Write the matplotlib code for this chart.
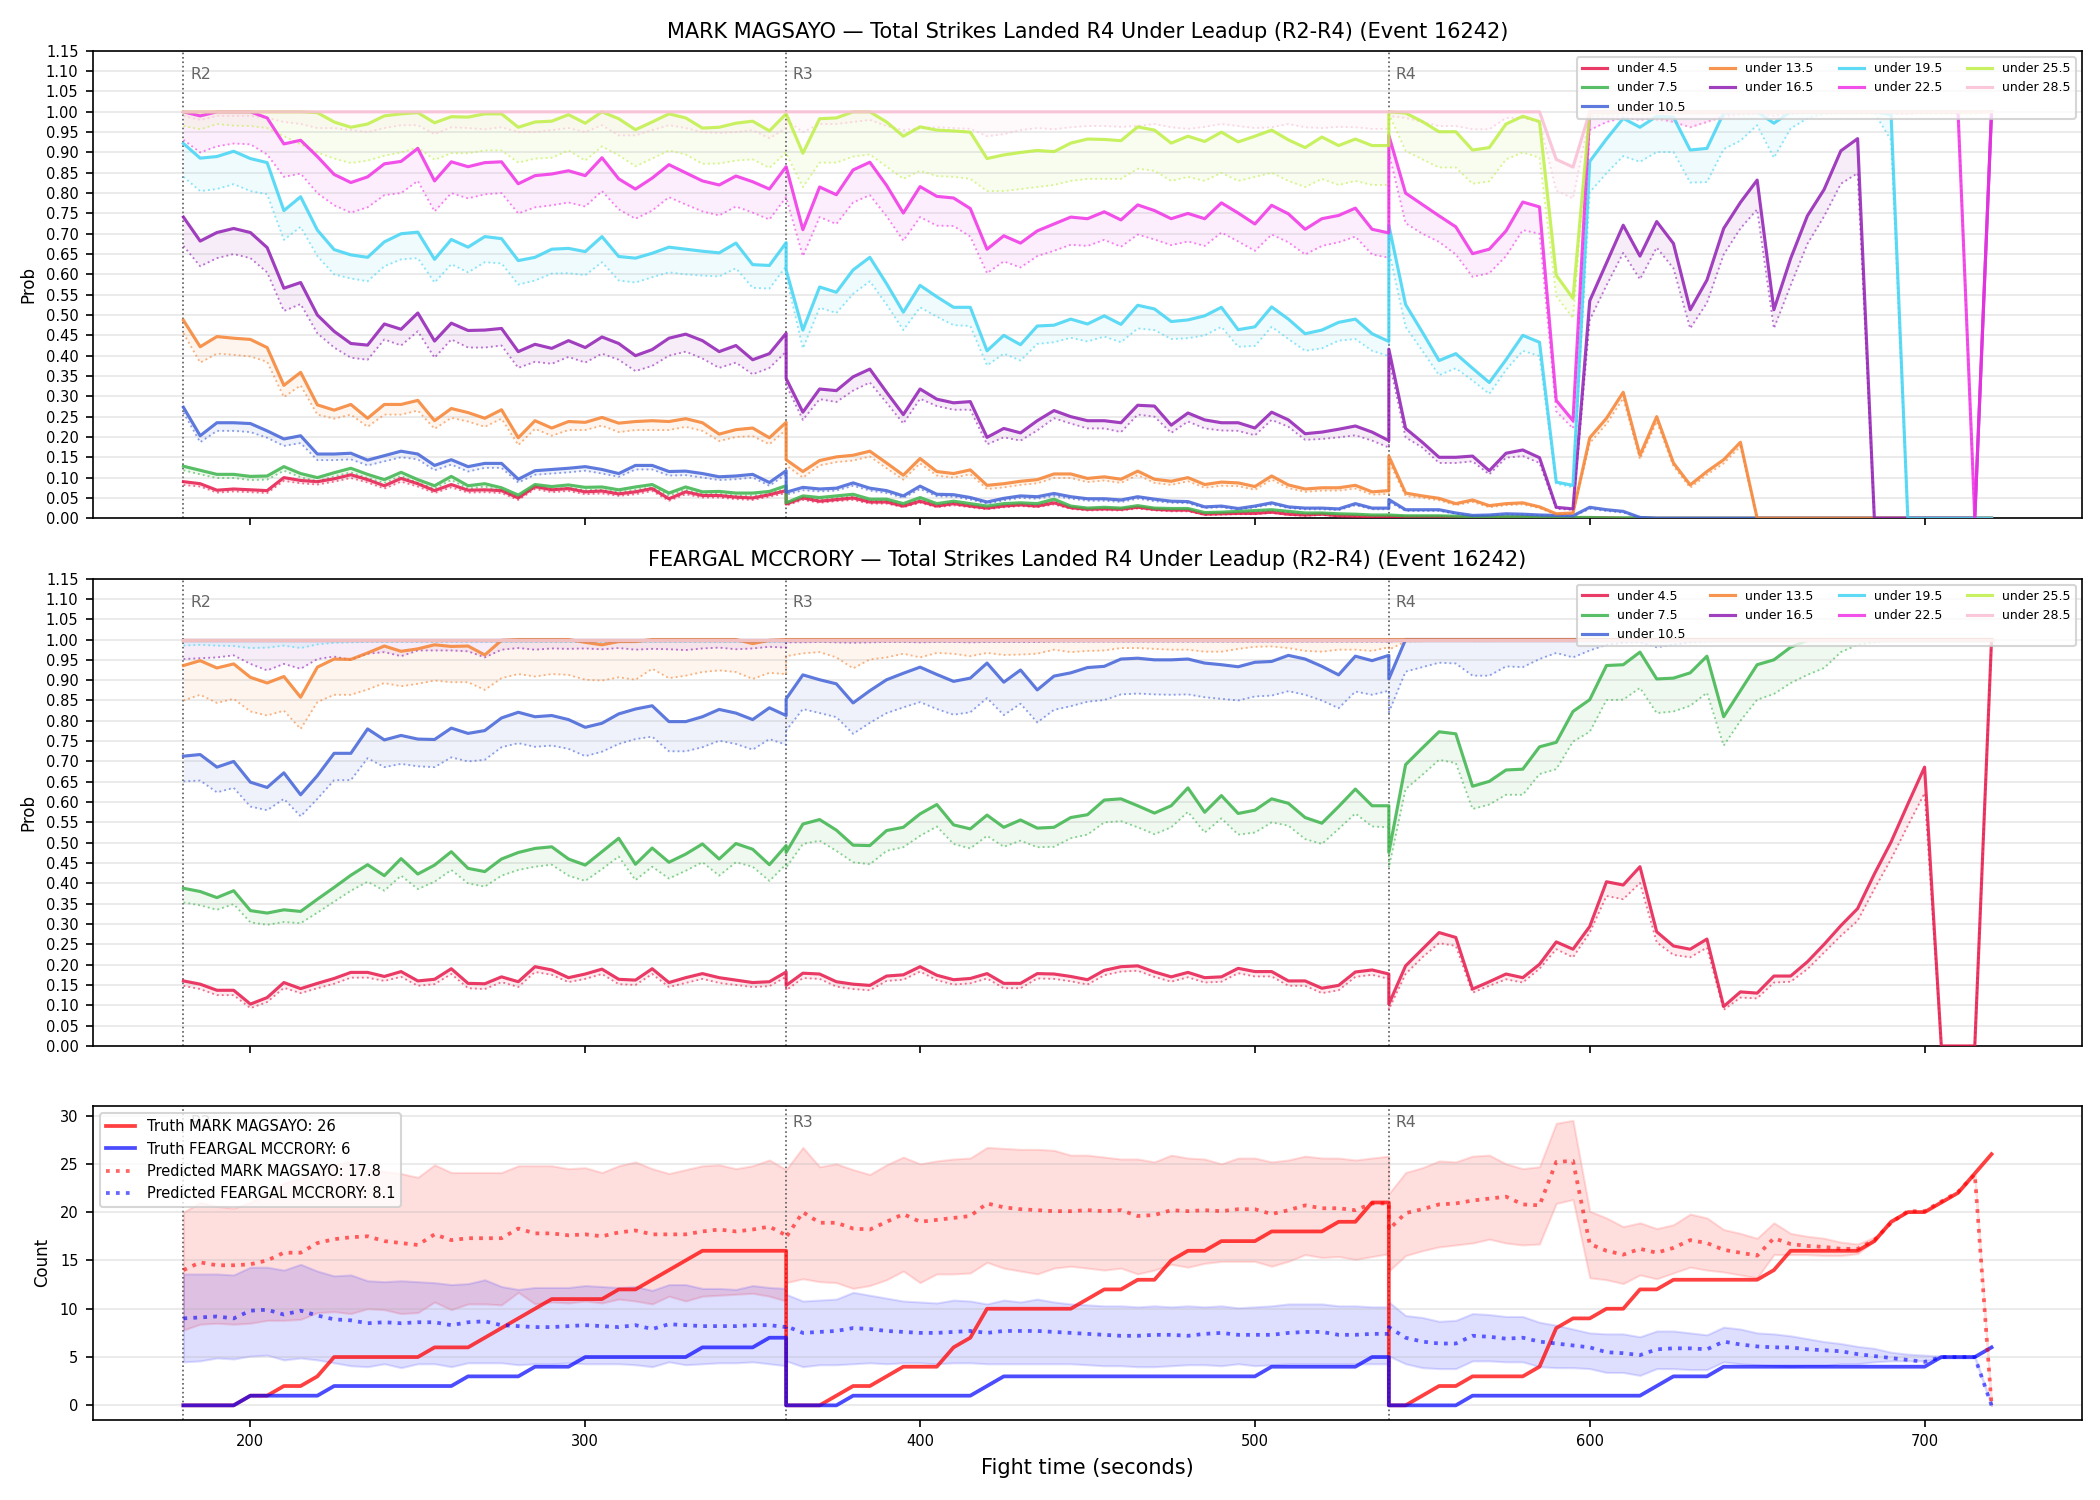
import numpy as np
import matplotlib
matplotlib.use("Agg")
import matplotlib.pyplot as plt
from matplotlib import transforms

# ---------------- time grid (5 s steps, each round 37 samples) ----------------
R2_T = list(range(180, 361, 5))
R3_T = list(range(360, 541, 5))
R4_T = list(range(540, 721, 5))
TIMES = R2_T + R3_T + R4_T
ROUND_STARTS = [180, 360, 540]
ROUND_NAMES = ["R2", "R3", "R4"]

LINE_LABELS = ["under 4.5", "under 7.5", "under 10.5", "under 13.5", "under 16.5",
               "under 19.5", "under 22.5", "under 25.5", "under 28.5"]
LINE_COLORS = ["#e6194B", "#3cb44b", "#4363d8", "#f58231", "#911eb4",
               "#42d4f4", "#f032e6", "#bfef45", "#fabed4"]

# ---------------- MARK MAGSAYO probabilities (solid) and dotted companions ----------------
MM_U45 = [0.090, 0.085, 0.069, 0.072, 0.070, 0.068, 0.100, 0.093, 0.090, 0.097, 0.107, 0.095, 0.080, 0.098, 0.085, 0.068, 0.083, 0.069, 0.070, 0.068, 0.050, 0.078, 0.070, 0.073, 0.065, 0.067, 0.060, 0.065, 0.073, 0.048, 0.065, 0.056, 0.056, 0.052, 0.050, 0.058, 0.068,
          0.035, 0.050, 0.042, 0.046, 0.050, 0.040, 0.040, 0.030, 0.042, 0.030, 0.036, 0.030, 0.025, 0.030, 0.033, 0.030, 0.038, 0.026, 0.022, 0.023, 0.022, 0.027, 0.022, 0.020, 0.020, 0.010, 0.011, 0.012, 0.012, 0.015, 0.010, 0.008, 0.010, 0.006, 0.005, 0.004, 0.004,
          0.004, 0.003, 0.003, 0.003, 0.002, 0.002, 0.002, 0.002, 0.002, 0.001, 0.001, 0.001, 0.001, 0.001, 0, 0, 0, 0, 0, 0, 0, 0, 0, 0, 0, 0, 0, 0, 0, 0, 0, 0, 0, 0, 0, 0, 0]
MM_U45_D = [0.082, 0.078, 0.063, 0.066, 0.064, 0.062, 0.092, 0.086, 0.083, 0.090, 0.099, 0.088, 0.073, 0.090, 0.078, 0.062, 0.076, 0.063, 0.064, 0.062, 0.045, 0.072, 0.064, 0.067, 0.059, 0.061, 0.055, 0.059, 0.067, 0.043, 0.059, 0.051, 0.051, 0.047, 0.045, 0.053, 0.062,
            0.031, 0.045, 0.038, 0.042, 0.045, 0.036, 0.036, 0.027, 0.038, 0.027, 0.032, 0.027, 0.022, 0.027, 0.030, 0.027, 0.034, 0.023, 0.019, 0.020, 0.019, 0.024, 0.019, 0.017, 0.017, 0.008, 0.009, 0.010, 0.010, 0.013, 0.008, 0.006, 0.008, 0.005, 0.004, 0.003, 0.003,
            0.003, 0.002, 0.002, 0.002, 0.001, 0.001, 0.001, 0.001, 0.001, 0.001, 0, 0, 0, 0, 0, 0, 0, 0, 0, 0, 0, 0, 0, 0, 0, 0, 0, 0, 0, 0, 0, 0, 0, 0, 0, 0, 0]
MM_U75 = [0.128, 0.118, 0.108, 0.108, 0.103, 0.104, 0.127, 0.110, 0.100, 0.112, 0.123, 0.108, 0.095, 0.113, 0.095, 0.080, 0.103, 0.080, 0.085, 0.075, 0.057, 0.083, 0.078, 0.082, 0.076, 0.077, 0.070, 0.077, 0.083, 0.062, 0.077, 0.065, 0.066, 0.062, 0.062, 0.066, 0.080,
          0.038, 0.055, 0.051, 0.055, 0.059, 0.047, 0.047, 0.036, 0.051, 0.036, 0.042, 0.036, 0.030, 0.036, 0.038, 0.036, 0.047, 0.030, 0.025, 0.027, 0.025, 0.031, 0.025, 0.024, 0.024, 0.014, 0.015, 0.017, 0.019, 0.021, 0.017, 0.013, 0.013, 0.011, 0.010, 0.008, 0.008,
          0.008, 0.006, 0.006, 0.006, 0.005, 0.004, 0.004, 0.004, 0.004, 0.003, 0.002, 0.002, 0.002, 0.001, 0.001, 0.001, 0, 0, 0, 0, 0, 0, 0, 0, 0, 0, 0, 0, 0, 0, 0, 0, 0, 0, 0, 0, 0]
MM_U75_D = [0.118, 0.108, 0.099, 0.099, 0.094, 0.095, 0.117, 0.101, 0.091, 0.103, 0.113, 0.099, 0.087, 0.104, 0.087, 0.073, 0.094, 0.073, 0.078, 0.068, 0.051, 0.076, 0.071, 0.075, 0.069, 0.070, 0.064, 0.070, 0.076, 0.056, 0.070, 0.059, 0.060, 0.056, 0.056, 0.060, 0.073,
            0.034, 0.050, 0.046, 0.050, 0.053, 0.042, 0.042, 0.032, 0.046, 0.032, 0.038, 0.032, 0.027, 0.032, 0.034, 0.032, 0.042, 0.027, 0.022, 0.024, 0.022, 0.028, 0.022, 0.021, 0.021, 0.012, 0.013, 0.015, 0.017, 0.019, 0.015, 0.011, 0.011, 0.009, 0.008, 0.007, 0.007,
            0.007, 0.005, 0.005, 0.005, 0.004, 0.003, 0.003, 0.003, 0.003, 0.002, 0.002, 0.001, 0.001, 0.001, 0, 0, 0, 0, 0, 0, 0, 0, 0, 0, 0, 0, 0, 0, 0, 0, 0, 0, 0, 0, 0, 0, 0]
MM_U105 = [0.273, 0.203, 0.235, 0.235, 0.233, 0.215, 0.195, 0.203, 0.158, 0.158, 0.160, 0.143, 0.154, 0.165, 0.158, 0.130, 0.144, 0.127, 0.135, 0.135, 0.096, 0.117, 0.120, 0.123, 0.127, 0.120, 0.110, 0.130, 0.130, 0.115, 0.116, 0.110, 0.102, 0.104, 0.108, 0.088, 0.117,
           0.064, 0.076, 0.072, 0.074, 0.087, 0.074, 0.068, 0.055, 0.079, 0.059, 0.058, 0.051, 0.040, 0.049, 0.055, 0.053, 0.061, 0.053, 0.048, 0.048, 0.045, 0.053, 0.047, 0.042, 0.041, 0.028, 0.030, 0.024, 0.030, 0.038, 0.028, 0.025, 0.025, 0.023, 0.036, 0.025, 0.025,
           0.046, 0.021, 0.021, 0.021, 0.013, 0.007, 0.008, 0.011, 0.010, 0.008, 0.007, 0.006, 0.027, 0.021, 0.017, 0.002, 0, 0, 0, 0, 0, 0, 0, 0, 0, 0, 0, 0, 0, 0, 0, 0, 0, 0, 0, 0, 0]
MM_U105_D = [0.260, 0.187, 0.215, 0.215, 0.212, 0.198, 0.178, 0.185, 0.143, 0.143, 0.145, 0.130, 0.140, 0.150, 0.145, 0.118, 0.132, 0.115, 0.124, 0.124, 0.088, 0.107, 0.110, 0.113, 0.117, 0.110, 0.102, 0.120, 0.120, 0.105, 0.106, 0.100, 0.094, 0.096, 0.100, 0.080, 0.108,
             0.058, 0.069, 0.066, 0.068, 0.080, 0.068, 0.062, 0.050, 0.072, 0.054, 0.053, 0.046, 0.036, 0.044, 0.050, 0.048, 0.055, 0.048, 0.043, 0.043, 0.040, 0.048, 0.042, 0.038, 0.037, 0.025, 0.027, 0.021, 0.027, 0.034, 0.025, 0.022, 0.022, 0.020, 0.032, 0.022, 0.022,
             0.040, 0.018, 0.018, 0.018, 0.011, 0.006, 0.007, 0.009, 0.008, 0.007, 0.006, 0.005, 0.023, 0.018, 0.014, 0.001, 0, 0, 0, 0, 0, 0, 0, 0, 0, 0, 0, 0, 0, 0, 0, 0, 0, 0, 0, 0, 0]
MM_U135 = [0.487, 0.422, 0.447, 0.443, 0.440, 0.420, 0.327, 0.359, 0.279, 0.266, 0.280, 0.246, 0.280, 0.280, 0.290, 0.240, 0.270, 0.260, 0.246, 0.267, 0.198, 0.240, 0.222, 0.238, 0.236, 0.248, 0.234, 0.238, 0.240, 0.238, 0.245, 0.235, 0.207, 0.218, 0.222, 0.198, 0.236,
           0.144, 0.115, 0.142, 0.151, 0.155, 0.165, 0.136, 0.106, 0.147, 0.115, 0.110, 0.119, 0.081, 0.085, 0.091, 0.095, 0.109, 0.109, 0.098, 0.102, 0.096, 0.116, 0.096, 0.091, 0.100, 0.083, 0.089, 0.087, 0.078, 0.104, 0.082, 0.072, 0.075, 0.075, 0.081, 0.065, 0.068,
           0.153, 0.062, 0.055, 0.049, 0.036, 0.045, 0.031, 0.036, 0.038, 0.028, 0.011, 0.013, 0.198, 0.246, 0.310, 0.155, 0.250, 0.136, 0.082, 0.115, 0.144, 0.187, 0, 0, 0, 0, 0, 0, 0, 0, 0, 0, 0, 0, 0, 0, 0]
MM_U135_D = [0.455, 0.383, 0.405, 0.402, 0.398, 0.385, 0.298, 0.327, 0.255, 0.245, 0.255, 0.225, 0.255, 0.255, 0.265, 0.220, 0.247, 0.238, 0.225, 0.245, 0.180, 0.220, 0.203, 0.217, 0.217, 0.228, 0.212, 0.217, 0.217, 0.217, 0.225, 0.215, 0.190, 0.200, 0.202, 0.182, 0.218,
             0.130, 0.100, 0.130, 0.138, 0.142, 0.152, 0.123, 0.095, 0.135, 0.105, 0.100, 0.108, 0.072, 0.076, 0.082, 0.086, 0.099, 0.099, 0.089, 0.093, 0.087, 0.106, 0.087, 0.082, 0.091, 0.075, 0.080, 0.079, 0.070, 0.095, 0.074, 0.065, 0.068, 0.068, 0.073, 0.058, 0.060,
             0.140, 0.055, 0.050, 0.044, 0.032, 0.040, 0.027, 0.032, 0.034, 0.025, 0.009, 0.011, 0.185, 0.232, 0.295, 0.145, 0.238, 0.128, 0.075, 0.107, 0.135, 0.177, 0, 0, 0, 0, 0, 0, 0, 0, 0, 0, 0, 0, 0, 0, 0]
MM_U165 = [0.741, 0.682, 0.703, 0.713, 0.703, 0.666, 0.566, 0.580, 0.500, 0.460, 0.430, 0.426, 0.478, 0.465, 0.505, 0.436, 0.480, 0.462, 0.463, 0.467, 0.410, 0.428, 0.418, 0.437, 0.420, 0.446, 0.430, 0.400, 0.415, 0.443, 0.453, 0.437, 0.410, 0.425, 0.390, 0.405, 0.455,
           0.344, 0.261, 0.318, 0.314, 0.348, 0.367, 0.310, 0.255, 0.318, 0.293, 0.284, 0.287, 0.199, 0.221, 0.210, 0.240, 0.265, 0.250, 0.240, 0.240, 0.235, 0.278, 0.276, 0.229, 0.259, 0.242, 0.235, 0.235, 0.222, 0.261, 0.242, 0.208, 0.212, 0.219, 0.227, 0.212, 0.191,
           0.416, 0.221, 0.187, 0.150, 0.150, 0.153, 0.117, 0.160, 0.168, 0.149, 0.027, 0.023, 0.535, 0.628, 0.721, 0.645, 0.730, 0.676, 0.513, 0.586, 0.713, 0.777, 0.832, 0.513, 0.639, 0.744, 0.809, 0.904, 0.934, 0, 0, 0, 0, 0, 0, 0, 1.0]
MM_U165_D = [0.670, 0.620, 0.640, 0.650, 0.640, 0.605, 0.510, 0.527, 0.455, 0.420, 0.395, 0.390, 0.440, 0.425, 0.460, 0.395, 0.440, 0.420, 0.420, 0.425, 0.370, 0.385, 0.380, 0.397, 0.383, 0.405, 0.390, 0.362, 0.375, 0.400, 0.410, 0.393, 0.370, 0.383, 0.354, 0.370, 0.410,
             0.328, 0.242, 0.293, 0.286, 0.314, 0.334, 0.284, 0.233, 0.294, 0.276, 0.267, 0.267, 0.182, 0.199, 0.191, 0.216, 0.246, 0.233, 0.221, 0.221, 0.212, 0.255, 0.250, 0.210, 0.238, 0.221, 0.216, 0.215, 0.204, 0.242, 0.225, 0.193, 0.195, 0.199, 0.204, 0.191, 0.174,
             0.390, 0.199, 0.174, 0.136, 0.136, 0.140, 0.108, 0.149, 0.153, 0.136, 0.023, 0.021, 0.488, 0.573, 0.653, 0.588, 0.666, 0.615, 0.467, 0.530, 0.649, 0.713, 0.760, 0.467, 0.573, 0.675, 0.743, 0.823, 0.849, 0, 0, 0, 0, 0, 0, 0, 1.0]
MM_U195 = [0.922, 0.886, 0.890, 0.903, 0.885, 0.875, 0.757, 0.791, 0.709, 0.661, 0.648, 0.642, 0.680, 0.700, 0.704, 0.637, 0.686, 0.667, 0.693, 0.688, 0.634, 0.642, 0.662, 0.664, 0.656, 0.693, 0.644, 0.640, 0.652, 0.667, 0.662, 0.657, 0.653, 0.677, 0.624, 0.622, 0.678,
           0.611, 0.463, 0.569, 0.556, 0.611, 0.642, 0.577, 0.507, 0.573, 0.545, 0.519, 0.519, 0.412, 0.450, 0.427, 0.473, 0.475, 0.490, 0.478, 0.498, 0.477, 0.524, 0.515, 0.484, 0.488, 0.498, 0.519, 0.464, 0.471, 0.520, 0.490, 0.454, 0.463, 0.482, 0.490, 0.454, 0.435,
           0.721, 0.526, 0.458, 0.388, 0.405, 0.369, 0.334, 0.390, 0.450, 0.433, 0.089, 0.081, 0.878, 0.933, 0.984, 0.962, 0.989, 0.987, 0.906, 0.910, 0.997, 1.0, 1.0, 0.972, 1.0, 1.0, 1.0, 1.0, 1.0, 1.0, 0.993, 0, 0, 0, 0, 0, 0]
MM_U195_D = [0.840, 0.805, 0.810, 0.822, 0.805, 0.797, 0.685, 0.717, 0.645, 0.600, 0.590, 0.583, 0.620, 0.637, 0.640, 0.580, 0.625, 0.605, 0.630, 0.627, 0.575, 0.585, 0.602, 0.603, 0.598, 0.630, 0.585, 0.580, 0.593, 0.605, 0.600, 0.597, 0.595, 0.615, 0.567, 0.565, 0.620,
             0.595, 0.418, 0.518, 0.505, 0.552, 0.583, 0.526, 0.463, 0.519, 0.496, 0.475, 0.473, 0.376, 0.405, 0.388, 0.429, 0.433, 0.444, 0.435, 0.447, 0.433, 0.467, 0.463, 0.441, 0.443, 0.450, 0.471, 0.422, 0.424, 0.471, 0.441, 0.412, 0.418, 0.437, 0.441, 0.412, 0.399,
             0.660, 0.471, 0.412, 0.352, 0.369, 0.339, 0.306, 0.365, 0.412, 0.399, 0.085, 0.076, 0.802, 0.849, 0.891, 0.877, 0.901, 0.901, 0.826, 0.827, 0.908, 0.929, 0.967, 0.887, 0.959, 0.984, 0.995, 0.998, 0.998, 0.998, 0.930, 0, 0, 0, 0, 0, 0]
MM_U225 = [1.000, 0.990, 1.000, 1.000, 1.000, 0.985, 0.921, 0.930, 0.890, 0.846, 0.826, 0.840, 0.872, 0.878, 0.910, 0.830, 0.877, 0.865, 0.875, 0.877, 0.823, 0.843, 0.847, 0.855, 0.843, 0.887, 0.835, 0.810, 0.837, 0.870, 0.850, 0.830, 0.820, 0.842, 0.828, 0.810, 0.865,
           0.865, 0.710, 0.815, 0.796, 0.857, 0.876, 0.819, 0.751, 0.816, 0.792, 0.788, 0.762, 0.662, 0.695, 0.677, 0.707, 0.724, 0.741, 0.737, 0.754, 0.734, 0.771, 0.757, 0.737, 0.750, 0.737, 0.776, 0.751, 0.724, 0.770, 0.749, 0.711, 0.737, 0.745, 0.763, 0.711, 0.702,
           0.942, 0.800, 0.772, 0.744, 0.717, 0.651, 0.662, 0.707, 0.778, 0.766, 0.290, 0.240, 1.0, 1.0, 1.0, 1.0, 1.0, 1.0, 1.0, 1.0, 1.0, 1.0, 1.0, 1.0, 1.0, 1.0, 1.0, 1.0, 1.0, 1.0, 1.0, 1.0, 1.0, 1.0, 1.0, 0, 1.0]
MM_U225_D = [0.931, 0.900, 0.915, 0.922, 0.920, 0.895, 0.840, 0.848, 0.800, 0.770, 0.752, 0.765, 0.795, 0.800, 0.830, 0.755, 0.800, 0.787, 0.797, 0.800, 0.750, 0.765, 0.770, 0.777, 0.767, 0.805, 0.760, 0.737, 0.757, 0.790, 0.772, 0.755, 0.745, 0.767, 0.752, 0.735, 0.790,
             0.789, 0.645, 0.741, 0.724, 0.777, 0.795, 0.743, 0.683, 0.741, 0.720, 0.719, 0.693, 0.603, 0.632, 0.617, 0.645, 0.658, 0.673, 0.670, 0.685, 0.668, 0.698, 0.686, 0.672, 0.681, 0.670, 0.703, 0.681, 0.658, 0.698, 0.679, 0.649, 0.670, 0.679, 0.693, 0.649, 0.641,
             0.900, 0.726, 0.700, 0.680, 0.649, 0.594, 0.603, 0.645, 0.709, 0.700, 0.263, 0.221, 0.955, 0.975, 0.985, 0.980, 0.985, 0.975, 0.962, 0.975, 0.990, 0.995, 0.995, 0.990, 0.995, 0.998, 0.998, 0.998, 0.998, 0.998, 0.995, 0.995, 0.998, 0.998, 0.998, 0, 1.0]
MM_U255 = [1.0, 1.0, 1.0, 1.0, 1.0, 1.0, 1.0, 1.0, 0.998, 0.975, 0.962, 0.970, 0.990, 0.995, 0.998, 0.973, 0.988, 0.987, 0.995, 0.995, 0.962, 0.975, 0.977, 0.993, 0.972, 1.000, 0.983, 0.956, 0.975, 0.995, 0.985, 0.960, 0.962, 0.972, 0.977, 0.953, 0.995,
           0.995, 0.898, 0.983, 0.985, 1.0, 1.0, 0.975, 0.940, 0.963, 0.955, 0.953, 0.950, 0.885, 0.894, 0.900, 0.905, 0.902, 0.923, 0.933, 0.932, 0.929, 0.963, 0.955, 0.923, 0.940, 0.927, 0.950, 0.926, 0.940, 0.955, 0.931, 0.912, 0.938, 0.917, 0.933, 0.917, 0.917,
           1.0, 0.997, 0.976, 0.951, 0.951, 0.906, 0.912, 0.970, 0.989, 0.976, 0.598, 0.541, 1.0, 1.0, 1.0, 1.0, 1.0, 1.0, 1.0, 1.0, 1.0, 1.0, 1.0, 1.0, 1.0, 1.0, 1.0, 1.0, 1.0, 1.0, 1.0, 1.0, 1.0, 1.0, 1.0, 1.0, 1.0]
MM_U255_D = [0.965, 0.957, 0.970, 0.966, 0.965, 0.960, 0.940, 0.920, 0.900, 0.885, 0.874, 0.880, 0.892, 0.900, 0.912, 0.882, 0.898, 0.898, 0.905, 0.905, 0.875, 0.885, 0.887, 0.905, 0.880, 0.915, 0.893, 0.866, 0.885, 0.905, 0.895, 0.872, 0.873, 0.880, 0.883, 0.862, 0.900,
             0.898, 0.815, 0.875, 0.875, 0.890, 0.895, 0.865, 0.835, 0.855, 0.842, 0.840, 0.835, 0.805, 0.805, 0.810, 0.815, 0.820, 0.830, 0.835, 0.835, 0.835, 0.860, 0.855, 0.830, 0.840, 0.830, 0.850, 0.830, 0.840, 0.850, 0.830, 0.815, 0.835, 0.820, 0.830, 0.820, 0.820,
             0.995, 0.904, 0.883, 0.863, 0.863, 0.823, 0.829, 0.883, 0.900, 0.887, 0.547, 0.492, 0.990, 0.992, 0.995, 0.995, 0.995, 0.995, 0.995, 0.995, 0.995, 0.995, 0.995, 0.995, 0.995, 0.995, 0.995, 0.995, 0.995, 0.995, 0.995, 0.995, 0.995, 0.995, 0.995, 0.995, 1.0]
MM_U285 = [1.0, 1.0, 1.0, 1.0, 1.0, 1.0, 1.0, 1.0, 1.0, 1.0, 1.0, 1.0, 1.0, 1.0, 1.0, 1.0, 1.0, 1.0, 1.0, 1.0, 1.0, 1.0, 1.0, 1.0, 1.0, 1.0, 1.0, 1.0, 1.0, 1.0, 1.0, 1.0, 1.0, 1.0, 1.0, 1.0, 1.0,
           1.0, 1.0, 1.0, 1.0, 1.0, 1.0, 1.0, 1.0, 1.0, 1.0, 1.0, 1.0, 1.0, 1.0, 1.0, 1.0, 1.0, 1.0, 1.0, 1.0, 1.0, 1.0, 1.0, 1.0, 1.0, 1.0, 1.0, 1.0, 1.0, 1.0, 1.0, 1.0, 1.0, 1.0, 1.0, 1.0, 1.0,
           1.0, 1.0, 1.0, 1.0, 1.0, 1.0, 1.0, 1.0, 1.0, 1.0, 0.883, 0.864, 1.0, 1.0, 1.0, 1.0, 1.0, 1.0, 1.0, 1.0, 1.0, 1.0, 1.0, 1.0, 1.0, 1.0, 1.0, 1.0, 1.0, 1.0, 1.0, 1.0, 1.0, 1.0, 1.0, 1.0, 1.0]
MM_U285_D = [0.990, 0.980, 0.990, 0.990, 0.990, 0.985, 0.975, 0.970, 0.960, 0.960, 0.955, 0.950, 0.960, 0.967, 0.967, 0.945, 0.962, 0.960, 0.957, 0.962, 0.950, 0.950, 0.955, 0.960, 0.950, 0.967, 0.942, 0.942, 0.955, 0.967, 0.960, 0.950, 0.948, 0.950, 0.955, 0.935, 0.960,
             0.980, 0.950, 0.970, 0.970, 0.975, 0.980, 0.965, 0.955, 0.960, 0.962, 0.960, 0.958, 0.940, 0.945, 0.955, 0.960, 0.957, 0.962, 0.965, 0.965, 0.963, 0.965, 0.970, 0.962, 0.958, 0.963, 0.970, 0.965, 0.960, 0.962, 0.970, 0.962, 0.960, 0.963, 0.962, 0.958, 0.958,
             0.990, 0.985, 0.975, 0.965, 0.965, 0.957, 0.957, 0.985, 0.985, 0.975, 0.806, 0.787, 0.990, 0.985, 0.990, 0.985, 0.980, 0.975, 0.962, 0.975, 0.985, 0.990, 0.995, 0.990, 0.995, 0.998, 0.998, 0.998, 0.998, 0.998, 0.998, 0.998, 0.998, 0.998, 0.998, 0.998, 0.998]

# ---------------- FEARGAL MCCRORY probabilities ----------------
FM_U45 = [0.160, 0.152, 0.137, 0.137, 0.103, 0.119, 0.156, 0.141, 0.154, 0.166, 0.181, 0.181, 0.171, 0.183, 0.160, 0.164, 0.190, 0.154, 0.153, 0.170, 0.158, 0.195, 0.187, 0.168, 0.177, 0.189, 0.164, 0.162, 0.190, 0.156, 0.168, 0.178, 0.168, 0.162, 0.156, 0.158, 0.182,
          0.149, 0.179, 0.177, 0.158, 0.152, 0.149, 0.172, 0.175, 0.195, 0.174, 0.163, 0.166, 0.178, 0.154, 0.154, 0.178, 0.177, 0.171, 0.163, 0.186, 0.195, 0.197, 0.182, 0.170, 0.181, 0.168, 0.170, 0.191, 0.183, 0.183, 0.160, 0.160, 0.142, 0.149, 0.182, 0.187, 0.177,
          0.103, 0.197, 0.238, 0.279, 0.267, 0.140, 0.158, 0.177, 0.168, 0.201, 0.256, 0.238, 0.294, 0.404, 0.396, 0.441, 0.281, 0.246, 0.238, 0.263, 0.097, 0.133, 0.130, 0.172, 0.172, 0.207, 0.250, 0.296, 0.338, 0.423, 0.502, 0.595, 0.686, 0, 0, 0, 1.0]
FM_U45_D = [0.148, 0.140, 0.125, 0.125, 0.093, 0.108, 0.143, 0.130, 0.142, 0.153, 0.168, 0.168, 0.160, 0.170, 0.148, 0.152, 0.177, 0.142, 0.140, 0.157, 0.145, 0.182, 0.175, 0.157, 0.165, 0.177, 0.152, 0.150, 0.177, 0.145, 0.155, 0.165, 0.155, 0.150, 0.145, 0.147, 0.170,
            0.137, 0.167, 0.165, 0.146, 0.140, 0.137, 0.160, 0.163, 0.183, 0.162, 0.151, 0.154, 0.166, 0.142, 0.142, 0.166, 0.165, 0.159, 0.151, 0.174, 0.183, 0.185, 0.170, 0.158, 0.169, 0.156, 0.158, 0.179, 0.171, 0.171, 0.148, 0.148, 0.130, 0.137, 0.170, 0.175, 0.165,
            0.090, 0.177, 0.218, 0.253, 0.246, 0.131, 0.148, 0.164, 0.156, 0.190, 0.238, 0.218, 0.279, 0.369, 0.361, 0.401, 0.255, 0.224, 0.218, 0.242, 0.089, 0.119, 0.117, 0.156, 0.158, 0.189, 0.230, 0.271, 0.308, 0.386, 0.460, 0.542, 0.622, 0, 0, 0, 1.0]
FM_U75 = [0.388, 0.380, 0.365, 0.382, 0.333, 0.327, 0.335, 0.331, 0.361, 0.390, 0.420, 0.446, 0.419, 0.461, 0.423, 0.445, 0.478, 0.437, 0.429, 0.460, 0.476, 0.486, 0.490, 0.460, 0.445, 0.478, 0.511, 0.447, 0.487, 0.452, 0.472, 0.497, 0.460, 0.498, 0.484, 0.446, 0.493,
          0.476, 0.546, 0.557, 0.531, 0.494, 0.493, 0.530, 0.538, 0.571, 0.594, 0.544, 0.534, 0.568, 0.538, 0.556, 0.536, 0.538, 0.562, 0.569, 0.605, 0.608, 0.591, 0.573, 0.591, 0.635, 0.575, 0.616, 0.572, 0.580, 0.608, 0.597, 0.562, 0.548, 0.589, 0.632, 0.591, 0.591,
          0.476, 0.692, 0.733, 0.773, 0.768, 0.639, 0.651, 0.679, 0.681, 0.736, 0.747, 0.823, 0.852, 0.936, 0.938, 0.969, 0.903, 0.905, 0.918, 0.959, 0.810, 0.874, 0.938, 0.950, 0.981, 0.998, 1.0, 1.0, 1.0, 1.0, 1.0, 1.0, 1.0, 1.0, 1.0, 1.0, 1.0]
FM_U75_D = [0.353, 0.346, 0.335, 0.349, 0.304, 0.298, 0.305, 0.302, 0.328, 0.355, 0.382, 0.404, 0.382, 0.419, 0.386, 0.404, 0.433, 0.400, 0.392, 0.419, 0.433, 0.441, 0.446, 0.419, 0.406, 0.435, 0.466, 0.408, 0.441, 0.412, 0.431, 0.452, 0.419, 0.452, 0.441, 0.406, 0.447,
            0.439, 0.497, 0.505, 0.480, 0.452, 0.447, 0.480, 0.489, 0.517, 0.540, 0.497, 0.486, 0.517, 0.490, 0.505, 0.489, 0.490, 0.511, 0.520, 0.550, 0.553, 0.538, 0.521, 0.538, 0.576, 0.525, 0.560, 0.520, 0.525, 0.550, 0.542, 0.509, 0.497, 0.534, 0.572, 0.540, 0.538,
            0.439, 0.632, 0.667, 0.704, 0.696, 0.583, 0.594, 0.618, 0.618, 0.669, 0.681, 0.749, 0.773, 0.851, 0.852, 0.881, 0.819, 0.823, 0.837, 0.869, 0.739, 0.800, 0.852, 0.866, 0.893, 0.913, 0.930, 0.969, 0.987, 0.993, 0.998, 1.0, 1.0, 1.0, 1.0, 1.0, 1.0]
FM_U105 = [0.713, 0.717, 0.686, 0.700, 0.649, 0.636, 0.672, 0.618, 0.665, 0.720, 0.720, 0.780, 0.753, 0.764, 0.755, 0.754, 0.782, 0.769, 0.776, 0.807, 0.821, 0.810, 0.813, 0.803, 0.784, 0.794, 0.817, 0.829, 0.837, 0.798, 0.798, 0.810, 0.828, 0.819, 0.803, 0.832, 0.813,
           0.854, 0.913, 0.901, 0.891, 0.844, 0.874, 0.901, 0.917, 0.932, 0.914, 0.897, 0.905, 0.942, 0.895, 0.925, 0.876, 0.910, 0.918, 0.931, 0.934, 0.952, 0.954, 0.950, 0.950, 0.952, 0.942, 0.938, 0.933, 0.944, 0.946, 0.961, 0.952, 0.934, 0.913, 0.959, 0.948, 0.961,
           0.903, 1.0, 1.0, 1.0, 1.0, 1.0, 1.0, 1.0, 1.0, 1.0, 1.0, 1.0, 1.0, 1.0, 1.0, 1.0, 1.0, 1.0, 1.0, 1.0, 1.0, 1.0, 1.0, 1.0, 1.0, 1.0, 1.0, 1.0, 1.0, 1.0, 1.0, 1.0, 1.0, 1.0, 1.0, 1.0, 1.0]
FM_U105_D = [0.651, 0.653, 0.624, 0.635, 0.589, 0.580, 0.608, 0.565, 0.608, 0.654, 0.654, 0.708, 0.686, 0.694, 0.688, 0.686, 0.710, 0.700, 0.704, 0.735, 0.745, 0.736, 0.739, 0.731, 0.713, 0.724, 0.743, 0.755, 0.761, 0.725, 0.725, 0.735, 0.751, 0.743, 0.729, 0.755, 0.741,
             0.776, 0.829, 0.819, 0.809, 0.768, 0.795, 0.819, 0.833, 0.846, 0.829, 0.815, 0.821, 0.856, 0.814, 0.842, 0.796, 0.827, 0.836, 0.847, 0.851, 0.865, 0.867, 0.865, 0.864, 0.865, 0.858, 0.854, 0.850, 0.860, 0.862, 0.873, 0.864, 0.850, 0.831, 0.872, 0.864, 0.874,
             0.821, 0.921, 0.932, 0.943, 0.941, 0.911, 0.911, 0.934, 0.932, 0.952, 0.967, 0.956, 0.973, 0.987, 0.992, 0.993, 0.981, 0.987, 0.993, 0.995, 0.996, 0.998, 0.998, 0.998, 0.998, 0.998, 0.998, 0.998, 0.998, 0.998, 0.998, 0.998, 0.998, 0.998, 0.998, 0.998, 1.0]
FM_U135 = [0.936, 0.948, 0.930, 0.940, 0.907, 0.893, 0.909, 0.858, 0.932, 0.952, 0.951, 0.967, 0.984, 0.971, 0.977, 0.987, 0.983, 0.984, 0.962, 0.998, 1.0, 1.0, 1.0, 1.0, 0.993, 0.987, 0.995, 0.995, 1.0, 1.0, 1.0, 1.0, 1.0, 1.0, 0.990, 0.998, 1.0,
           1.0, 1.0, 1.0, 1.0, 1.0, 1.0, 1.0, 1.0, 1.0, 1.0, 1.0, 1.0, 1.0, 1.0, 1.0, 1.0, 1.0, 1.0, 1.0, 1.0, 1.0, 1.0, 1.0, 1.0, 1.0, 1.0, 1.0, 1.0, 1.0, 1.0, 1.0, 1.0, 1.0, 1.0, 1.0, 1.0, 1.0,
           1.0, 1.0, 1.0, 1.0, 1.0, 1.0, 1.0, 1.0, 1.0, 1.0, 1.0, 1.0, 1.0, 1.0, 1.0, 1.0, 1.0, 1.0, 1.0, 1.0, 1.0, 1.0, 1.0, 1.0, 1.0, 1.0, 1.0, 1.0, 1.0, 1.0, 1.0, 1.0, 1.0, 1.0, 1.0, 1.0, 1.0]
FM_U135_D = [0.850, 0.864, 0.844, 0.854, 0.823, 0.813, 0.825, 0.780, 0.846, 0.864, 0.864, 0.877, 0.893, 0.885, 0.891, 0.899, 0.895, 0.895, 0.876, 0.905, 0.915, 0.909, 0.915, 0.913, 0.901, 0.899, 0.907, 0.901, 0.928, 0.905, 0.911, 0.920, 0.924, 0.920, 0.903, 0.918, 0.915,
             0.959, 0.966, 0.969, 0.956, 0.929, 0.951, 0.956, 0.965, 0.956, 0.967, 0.965, 0.959, 0.967, 0.962, 0.963, 0.965, 0.975, 0.969, 0.972, 0.973, 0.979, 0.979, 0.977, 0.975, 0.975, 0.970, 0.970, 0.977, 0.982, 0.983, 0.979, 0.972, 0.970, 0.975, 0.975, 0.972, 0.981,
             0.975, 0.995, 0.996, 0.997, 0.997, 0.996, 0.996, 0.997, 0.997, 0.998, 0.998, 0.998, 0.998, 0.999, 0.999, 0.999, 0.999, 0.999, 0.999, 0.999, 0.999, 0.999, 0.999, 0.999, 0.999, 0.999, 0.999, 0.999, 0.999, 0.999, 0.999, 0.999, 0.999, 0.999, 0.999, 0.999, 1.0]
FM_U165 = [1.0, 1.0, 1.0, 1.0, 1.0, 1.0, 1.0, 1.0, 1.0, 1.0, 1.0, 1.0, 1.0, 1.0, 1.0, 1.0, 1.0, 1.0, 1.0, 1.0, 1.0, 1.0, 1.0, 1.0, 1.0, 1.0, 1.0, 1.0, 1.0, 1.0, 1.0, 1.0, 1.0, 1.0, 1.0, 1.0, 1.0,
           1.0, 1.0, 1.0, 1.0, 1.0, 1.0, 1.0, 1.0, 1.0, 1.0, 1.0, 1.0, 1.0, 1.0, 1.0, 1.0, 1.0, 1.0, 1.0, 1.0, 1.0, 1.0, 1.0, 1.0, 1.0, 1.0, 1.0, 1.0, 1.0, 1.0, 1.0, 1.0, 1.0, 1.0, 1.0, 1.0, 1.0,
           1.0, 1.0, 1.0, 1.0, 1.0, 1.0, 1.0, 1.0, 1.0, 1.0, 1.0, 1.0, 1.0, 1.0, 1.0, 1.0, 1.0, 1.0, 1.0, 1.0, 1.0, 1.0, 1.0, 1.0, 1.0, 1.0, 1.0, 1.0, 1.0, 1.0, 1.0, 1.0, 1.0, 1.0, 1.0, 1.0, 1.0]
FM_U165_D = [0.952, 0.954, 0.956, 0.961, 0.940, 0.924, 0.940, 0.928, 0.952, 0.958, 0.950, 0.965, 0.969, 0.959, 0.973, 0.973, 0.973, 0.971, 0.956, 0.975, 0.979, 0.975, 0.978, 0.977, 0.978, 0.976, 0.979, 0.975, 0.977, 0.976, 0.974, 0.978, 0.980, 0.976, 0.978, 0.982, 0.980,
             0.993, 0.993, 0.994, 0.993, 0.992, 0.993, 0.994, 0.994, 0.993, 0.994, 0.994, 0.993, 0.994, 0.994, 0.994, 0.994, 0.995, 0.995, 0.995, 0.995, 0.995, 0.995, 0.995, 0.995, 0.995, 0.995, 0.995, 0.995, 0.995, 0.995, 0.995, 0.995, 0.995, 0.995, 0.995, 0.995, 0.995,
             0.995, 0.998, 0.998, 0.998, 0.998, 0.998, 0.998, 0.998, 0.998, 0.998, 0.998, 0.998, 0.998, 0.998, 0.998, 0.998, 0.998, 0.998, 0.998, 0.998, 0.998, 0.998, 0.998, 0.998, 0.998, 0.998, 0.998, 0.998, 0.998, 0.998, 0.998, 0.998, 0.998, 0.998, 0.998, 0.998, 1.0]
FM_U195 = FM_U165
FM_U195_D = [0.985, 0.987, 0.985, 0.984, 0.979, 0.980, 0.985, 0.979, 0.988, 0.992, 0.993, 0.994, 0.994, 0.994, 0.994, 0.994, 0.994, 0.994, 0.994, 0.994, 0.994, 0.994, 0.994, 0.994, 0.994, 0.994, 0.994, 0.994, 0.994, 0.994, 0.994, 0.994, 0.994, 0.994, 0.994, 0.994, 0.994,
             0.996, 0.996, 0.996, 0.996, 0.996, 0.996, 0.996, 0.996, 0.996, 0.996, 0.996, 0.996, 0.996, 0.996, 0.996, 0.996, 0.996, 0.996, 0.996, 0.996, 0.996, 0.996, 0.996, 0.996, 0.996, 0.996, 0.996, 0.996, 0.996, 0.996, 0.996, 0.996, 0.996, 0.996, 0.996, 0.996, 0.996,
             0.996, 0.998, 0.998, 0.998, 0.998, 0.998, 0.998, 0.998, 0.998, 0.998, 0.998, 0.998, 0.998, 0.998, 0.998, 0.998, 0.998, 0.998, 0.998, 0.998, 0.998, 0.998, 0.998, 0.998, 0.998, 0.998, 0.998, 0.998, 0.998, 0.998, 0.998, 0.998, 0.998, 0.998, 0.998, 0.998, 1.0]
FM_U225 = FM_U165
FM_U225_D = [0.998, 0.998, 0.998, 0.998, 0.998, 0.998, 0.998, 0.998, 0.998, 0.998, 0.998, 0.998, 0.998, 0.998, 0.998, 0.998, 0.998, 0.998, 0.998, 0.998, 0.998, 0.998, 0.998, 0.998, 0.998, 0.998, 0.998, 0.998, 0.998, 0.998, 0.998, 0.998, 0.998, 0.998, 0.998, 0.998, 0.998,
             0.998, 0.998, 0.998, 0.998, 0.998, 0.998, 0.998, 0.998, 0.998, 0.998, 0.998, 0.998, 0.998, 0.998, 0.998, 0.998, 0.998, 0.998, 0.998, 0.998, 0.998, 0.998, 0.998, 0.998, 0.998, 0.998, 0.998, 0.998, 0.998, 0.998, 0.998, 0.998, 0.998, 0.998, 0.998, 0.998, 0.998,
             0.998, 0.998, 0.998, 0.998, 0.998, 0.998, 0.998, 0.998, 0.998, 0.998, 0.998, 0.998, 0.998, 0.998, 0.998, 0.998, 0.998, 0.998, 0.998, 0.998, 0.998, 0.998, 0.998, 0.998, 0.998, 0.998, 0.998, 0.998, 0.998, 0.998, 0.998, 0.998, 0.998, 0.998, 0.998, 0.998, 1.0]
FM_U255 = FM_U165
FM_U255_D = FM_U225_D
FM_U285 = FM_U165
FM_U285_D = FM_U225_D

# ---------------- count panel ----------------
TRUTH_MM = [0, 0, 0, 0, 1, 1, 2, 2, 3, 5, 5, 5, 5, 5, 5, 6, 6, 6, 7, 8, 9, 10, 11, 11, 11, 11, 12, 12, 13, 14, 15, 16, 16, 16, 16, 16, 16,
            0, 0, 0, 1, 2, 2, 3, 4, 4, 4, 6, 7, 10, 10, 10, 10, 10, 10, 11, 12, 12, 13, 13, 15, 16, 16, 17, 17, 17, 18, 18, 18, 18, 19, 19, 21, 21,
            0, 0, 1, 2, 2, 3, 3, 3, 3, 4, 8, 9, 9, 10, 10, 12, 12, 13, 13, 13, 13, 13, 13, 14, 16, 16, 16, 16, 16, 17, 19, 20, 20, 21, 22, 24, 26]
TRUTH_FM = [0, 0, 0, 0, 1, 1, 1, 1, 1, 2,
            2, 2, 2, 2, 2, 2, 2, 3, 3, 3,
            3, 4, 4, 4, 5, 5, 5, 5, 5, 5,
            5, 6, 6, 6, 6, 7, 7,
            0, 0, 0, 0, 1, 1, 1, 1, 1, 1,
            1, 1, 2, 3, 3, 3, 3, 3, 3, 3,
            3, 3, 3, 3, 3, 3, 3, 3, 3, 4,
            4, 4, 4, 4, 4, 5, 5,
            0, 0, 0, 0, 0, 1, 1, 1, 1, 1,
            1, 1, 1, 1, 1, 1, 2, 3, 3, 3,
            4, 4, 4, 4, 4, 4, 4, 4, 4, 4,
            4, 4, 4, 5, 5, 5, 6]
PRED_MM = [14.0, 14.8, 14.5, 14.5, 14.6, 15.0, 15.8, 15.8, 16.8, 17.2, 17.4, 17.5, 17.0, 16.8, 16.6, 17.7, 17.1, 17.3, 17.3, 17.3, 18.3, 17.8, 17.8, 17.6, 17.7, 17.5, 17.9, 18.1, 17.7, 17.7, 17.7, 18.0, 18.2, 18.0, 18.2, 18.5, 17.6,
           17.4, 20.0, 18.9, 18.9, 18.3, 18.2, 19.0, 19.8, 19.0, 19.2, 19.4, 19.6, 20.9, 20.5, 20.3, 20.2, 20.1, 20.1, 20.2, 20.1, 20.2, 19.6, 19.7, 20.2, 20.1, 20.2, 20.1, 20.3, 20.3, 19.8, 20.2, 20.7, 20.4, 20.4, 20.2, 20.9, 20.9,
           18.2, 19.9, 20.3, 20.8, 20.9, 21.2, 21.4, 21.6, 20.8, 20.7, 25.2, 25.3, 16.7, 16.0, 15.6, 16.2, 15.8, 16.3, 17.1, 16.8, 16.1, 15.8, 15.5, 17.3, 16.7, 16.5, 16.4, 16.2, 16.2, 17.1, 18.9, 20.1, 20.1, 21.1, 22.1, 23.9, 0.0]
PRED_MM_HI = [20.0, 21.0, 20.6, 20.4, 21.0, 22.0, 23.0, 23.5, 24.3, 24.9, 25.3, 24.4, 24.2, 24.0, 23.6, 24.9, 24.1, 24.1, 24.1, 24.1, 24.8, 24.8, 24.8, 24.5, 24.6, 24.1, 24.8, 25.2, 24.5, 24.0, 24.4, 24.8, 24.9, 24.5, 24.8, 25.4, 24.4,
              24.4, 26.7, 24.7, 25.0, 24.4, 23.9, 24.9, 25.7, 25.0, 25.3, 25.5, 25.6, 26.7, 26.6, 26.5, 26.5, 26.4, 25.9, 25.9, 25.7, 25.5, 25.5, 25.2, 25.9, 25.6, 25.5, 25.0, 25.6, 25.6, 25.2, 25.4, 25.8, 25.6, 25.6, 25.4, 25.6, 25.8,
              21.9, 24.1, 24.6, 25.3, 25.2, 25.8, 25.9, 25.0, 24.5, 24.7, 29.2, 29.5, 20.1, 19.4, 18.5, 18.9, 18.3, 18.7, 19.8, 19.4, 18.2, 17.8, 17.3, 18.9, 17.8, 17.5, 17.3, 16.9, 16.7, 17.4, 18.9, 20.0, 20.1, 21.0, 22.0, 23.9, 0.0]
PRED_MM_LO = [7.8, 8.4, 8.5, 8.4, 8.5, 8.8, 8.8, 8.9, 9.6, 9.7, 9.5, 10.0, 9.9, 9.5, 9.6, 10.7, 9.9, 10.5, 10.5, 10.4, 11.7, 10.5, 10.7, 10.6, 10.8, 10.6, 11.0, 10.8, 10.5, 11.3, 10.8, 11.3, 11.4, 11.5, 11.6, 11.3, 10.8,
              12.7, 13.1, 12.8, 12.7, 12.1, 12.4, 13.0, 13.9, 12.7, 13.6, 13.6, 13.7, 14.8, 14.2, 13.9, 13.6, 14.2, 14.4, 14.2, 14.0, 14.2, 13.6, 14.0, 14.6, 14.3, 14.7, 14.9, 14.9, 14.9, 14.4, 14.9, 15.6, 15.3, 15.4, 15.1, 15.4, 15.7,
              13.9, 15.5, 16.0, 16.4, 16.6, 16.8, 17.2, 16.8, 16.6, 16.7, 20.9, 21.3, 13.2, 13.0, 12.6, 13.5, 13.1, 13.7, 14.3, 14.0, 13.8, 13.5, 13.2, 15.6, 15.6, 15.6, 15.5, 15.5, 15.7, 17.0, 18.9, 20.1, 20.1, 21.0, 22.0, 23.9, 0.0]
PRED_FM = [9.0, 9.1, 9.2, 9.0, 9.8, 9.9, 9.4, 9.8, 9.3, 8.9, 8.8, 8.5, 8.6, 8.5, 8.6, 8.6, 8.3, 8.6, 8.7, 8.3, 8.2, 8.1, 8.1, 8.2, 8.3, 8.2, 8.1, 8.3, 7.9, 8.4, 8.3, 8.2, 8.2, 8.2, 8.3, 8.3, 8.1,
           8.2, 7.5, 7.6, 7.7, 8.0, 7.9, 7.7, 7.6, 7.5, 7.5, 7.6, 7.7, 7.5, 7.7, 7.7, 7.7, 7.6, 7.5, 7.4, 7.3, 7.2, 7.2, 7.3, 7.3, 7.2, 7.4, 7.5, 7.3, 7.3, 7.3, 7.5, 7.6, 7.6, 7.3, 7.3, 7.4, 7.4,
           8.1, 7.0, 6.6, 6.4, 6.4, 7.2, 7.1, 6.9, 7.0, 6.6, 6.4, 6.2, 6.0, 5.5, 5.4, 5.2, 5.8, 5.9, 5.9, 5.8, 6.6, 6.3, 6.1, 6.0, 6.0, 5.8, 5.7, 5.6, 5.3, 5.1, 4.9, 4.7, 4.5, 5.0, 5.0, 5.0, 0.0]
PRED_FM_HI = [13.6, 13.6, 13.6, 13.5, 14.3, 14.3, 14.0, 14.6, 13.9, 13.4, 13.5, 12.9, 12.8, 12.9, 12.8, 12.7, 12.5, 12.6, 13.0, 12.3, 12.0, 12.2, 12.2, 12.2, 12.4, 12.3, 12.2, 12.3, 11.9, 12.5, 12.5, 12.1, 12.1, 12.0, 12.4, 12.2, 12.1,
              11.5, 10.8, 10.9, 11.0, 11.7, 11.4, 11.1, 10.8, 10.7, 10.6, 10.9, 10.8, 10.5, 10.9, 10.7, 11.0, 10.7, 10.5, 10.4, 10.3, 10.3, 10.2, 10.3, 10.2, 10.3, 10.2, 10.3, 10.1, 10.2, 10.3, 10.5, 10.5, 10.5, 10.3, 10.3, 10.2, 10.2,
              10.7, 9.3, 9.1, 8.7, 8.8, 9.5, 9.4, 9.2, 9.2, 8.6, 8.3, 7.9, 7.5, 7.4, 7.4, 7.1, 7.7, 7.7, 7.5, 7.3, 8.1, 7.9, 7.5, 7.4, 7.2, 6.9, 6.6, 6.4, 6.1, 5.9, 5.5, 5.3, 5.2, 5.1, 5.1, 5.1, 0.0]
PRED_FM_LO = [4.5, 4.6, 4.9, 4.8, 5.1, 5.2, 4.7, 4.9, 4.7, 4.4, 4.1, 4.0, 4.3, 3.9, 4.3, 4.3, 4.0, 4.4, 4.4, 4.4, 4.2, 4.3, 4.3, 4.4, 4.3, 4.3, 4.3, 4.2, 4.0, 4.5, 4.2, 4.3, 4.4, 4.4, 4.5, 4.3, 4.1,
              4.6, 4.0, 4.2, 4.2, 4.3, 4.4, 4.3, 4.4, 4.4, 4.3, 4.4, 4.4, 4.3, 4.3, 4.3, 4.3, 4.3, 4.3, 4.2, 4.1, 4.1, 4.0, 4.0, 4.1, 4.2, 4.2, 4.1, 4.3, 4.1, 4.2, 4.3, 4.3, 4.3, 4.3, 4.3, 4.3, 4.3,
              5.1, 4.3, 3.9, 3.8, 3.8, 4.6, 4.6, 4.5, 4.5, 4.0, 3.9, 3.9, 3.8, 3.4, 3.4, 3.1, 3.8, 3.8, 3.7, 3.7, 4.5, 4.3, 4.2, 4.1, 4.0, 4.1, 4.1, 4.3, 4.3, 4.5, 4.6, 4.6, 4.6, 4.9, 4.9, 4.9, 0.0]

MM_SERIES = [(MM_U45, MM_U45_D), (MM_U75, MM_U75_D), (MM_U105, MM_U105_D), (MM_U135, MM_U135_D),
             (MM_U165, MM_U165_D), (MM_U195, MM_U195_D), (MM_U225, MM_U225_D), (MM_U255, MM_U255_D),
             (MM_U285, MM_U285_D)]
FM_SERIES = [(FM_U45, FM_U45_D), (FM_U75, FM_U75_D), (FM_U105, FM_U105_D), (FM_U135, FM_U135_D),
             (FM_U165, FM_U165_D), (FM_U195, FM_U195_D), (FM_U225, FM_U225_D), (FM_U255, FM_U255_D),
             (FM_U285, FM_U285_D)]

TITLE_MM = "MARK MAGSAYO \u2014 Total Strikes Landed R4 Under Leadup (R2-R4) (Event 16242)"
TITLE_FM = "FEARGAL MCCRORY \u2014 Total Strikes Landed R4 Under Leadup (R2-R4) (Event 16242)"

plt.rcParams['font.family'] = ['DejaVu Sans']
fig = plt.figure(figsize=(14, 10), dpi=150)
L, W = 0.0443, 0.9471
ax1 = fig.add_axes([L, 0.6545, W, 0.3116])
ax2 = fig.add_axes([L, 0.3027, W, 0.3116], sharex=ax1)
ax3 = fig.add_axes([L, 0.0536, W, 0.2090], sharex=ax1)

t = np.array(TIMES, dtype=float)


def round_marks(ax, yfrac=0.965):
    trans = transforms.blended_transform_factory(ax.transData, ax.transAxes)
    for x0, name in zip(ROUND_STARTS, ROUND_NAMES):
        ax.axvline(x0, color='0.35', linestyle=':', linewidth=0.8, zorder=1)
        ax.text(x0 + 2, yfrac, name, transform=trans, ha='left', va='top',
                fontsize=7.5, color='0.4')


def prob_panel(ax, series, title):
    for (solid, dotted), lab, col in zip(series, LINE_LABELS, LINE_COLORS):
        s = np.array(solid, dtype=float)
        d = np.array(dotted, dtype=float)
        ax.plot(t, s, color=col, linewidth=1.5, alpha=0.85, label=lab, zorder=3)
        ax.plot(t, d, color=col, linewidth=0.9, alpha=0.6, linestyle=':', zorder=2)
        ax.fill_between(t, s, d, color=col, alpha=0.08, linewidth=0, zorder=1)
    ax.set_ylim(0, 1.15)
    ax.set_yticks(np.round(np.arange(0, 1.1501, 0.05), 2))
    ax.yaxis.set_major_formatter(matplotlib.ticker.FormatStrFormatter('%.2f'))
    ax.set_ylabel("Prob", fontsize=8)
    ax.set_title(title, fontsize=10)
    ax.grid(True, axis='y', alpha=0.3)
    ax.tick_params(axis='both', labelsize=7)
    ax.tick_params(axis='x', labelbottom=False)
    round_marks(ax)
    ax.legend(loc='upper right', ncol=4, fontsize=6, framealpha=0.8)


prob_panel(ax1, MM_SERIES, TITLE_MM)
prob_panel(ax2, FM_SERIES, TITLE_FM)

# bottom count panel
ax3.fill_between(t, PRED_MM_LO, PRED_MM_HI, color='red', alpha=0.13, linewidth=1)
ax3.fill_between(t, PRED_FM_LO, PRED_FM_HI, color='blue', alpha=0.13, linewidth=1)
ax3.plot(t, TRUTH_MM, color='red', linewidth=1.8, alpha=0.75, label="Truth MARK MAGSAYO: 26")
ax3.plot(t, TRUTH_FM, color='blue', linewidth=1.8, alpha=0.7, label="Truth FEARGAL MCCRORY: 6")
ax3.plot(t, PRED_MM, color='red', linewidth=1.8, alpha=0.6, linestyle=':', label="Predicted MARK MAGSAYO: 17.8")
ax3.plot(t, PRED_FM, color='blue', linewidth=1.8, alpha=0.6, linestyle=':', label="Predicted FEARGAL MCCRORY: 8.1")
ax3.set_ylabel("Count", fontsize=8)
ax3.set_xlabel("Fight time (seconds)", fontsize=10)
ax3.grid(True, axis='y', alpha=0.3)
ax3.tick_params(axis='both', labelsize=7)
round_marks(ax3, 0.972)
ax3.legend(loc='upper left', fontsize=7, framealpha=0.8)
ax3.set_xlim(153, 747)

fig.savefig("out.png", dpi=150)
